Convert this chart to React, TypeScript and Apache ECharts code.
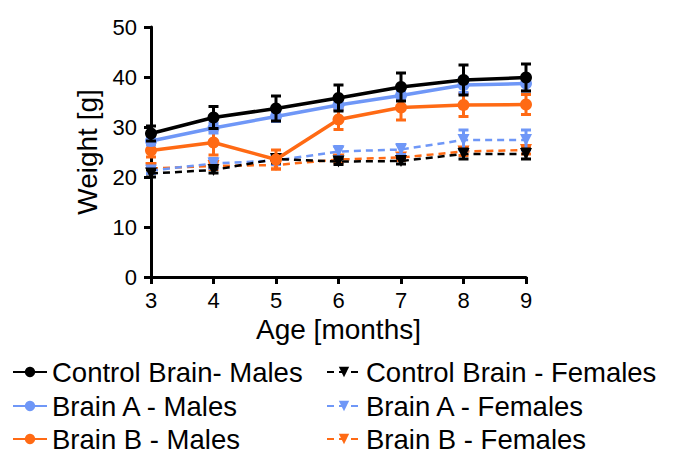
import React, { useEffect, useRef } from "react";
import * as echarts from "echarts";

const months = [3, 4, 5, 6, 7, 8, 9];
const yTicks = [0, 10, 20, 30, 40, 50];

const controlMales = [28.7, 31.9, 33.7, 35.8, 38.0, 39.4, 39.9];
const controlMalesErr = [1.5, 2.2, 2.5, 2.6, 2.8, 3.0, 2.7];
const brainAMales = [27.2, 29.8, 32.1, 34.4, 36.3, 38.4, 38.7];
const brainAMalesErr = [0.8, 1.0, 1.0, 1.0, 1.0, 1.5, 1.5];
const brainBMales = [25.3, 26.9, 23.5, 31.5, 33.9, 34.4, 34.5];
const brainBMalesErr = [1.3, 2.5, 1.9, 2.0, 2.5, 2.3, 2.0];

const controlFemales = [20.7, 21.4, 23.6, 23.1, 23.2, 24.6, 24.6];
const controlFemalesErr = [0.7, 0.6, 0.8, 0.6, 0.6, 1.0, 1.0];
const brainAFemales = [21.3, 22.7, 23.3, 25.1, 25.5, 27.4, 27.4];
const brainAFemalesErr = [0.6, 1.0, 0.8, 1.0, 1.0, 2.0, 2.0];
const brainBFemales = [21.7, 22.2, 22.4, 23.5, 23.9, 25.1, 25.4];
const brainBFemalesErr = [1.0, 0.7, 0.8, 0.7, 0.6, 0.8, 0.8];

const maleNames = ["Control Brain- Males", "Brain A - Males", "Brain B - Males"];
const femaleNames = ["Control Brain - Females", "Brain A - Females", "Brain B - Females"];

const BLACK = "#000000";
const BLUE = "#6f97f7";
const ORANGE = "#ff6a14";

const FONT = "Liberation Sans, Arial, sans-serif";

function errSeries(name: string, vals: number[], errs: number[], color: string, z: number) {
  return {
    type: "custom",
    name: name + " err",
    z,
    silent: true,
    data: months.map((m, i) => [m, vals[i] - errs[i], vals[i] + errs[i]]),
    renderItem: (params: any, api: any) => {
      const x = api.value(0);
      const lo = api.coord([x, api.value(1)]);
      const hi = api.coord([x, api.value(2)]);
      const w = 5;
      const style = { stroke: color, lineWidth: 3 };
      return {
        type: "group",
        children: [
          { type: "line", shape: { x1: lo[0], y1: lo[1], x2: hi[0], y2: hi[1] }, style },
          { type: "line", shape: { x1: hi[0] - w, y1: hi[1], x2: hi[0] + w, y2: hi[1] }, style },
          { type: "line", shape: { x1: lo[0] - w, y1: lo[1], x2: lo[0] + w, y2: lo[1] }, style },
        ],
      };
    },
  };
}

function lineSeries(name: string, vals: number[], color: string, female: boolean, z: number) {
  return {
    type: "line",
    name,
    z,
    data: months.map((m, i) => [m, vals[i]]),
    symbol: female ? "triangle" : "circle",
    symbolRotate: female ? 180 : 0,
    symbolSize: 12,
    itemStyle: { color },
    lineStyle: { color, width: female ? 2.5 : 3.5, type: female ? [7, 5] : "solid" },
  };
}

export default function App() {
  const ref = useRef<HTMLDivElement>(null);
  useEffect(() => {
    const chart = echarts.init(ref.current!, undefined, { renderer: "svg" });
    const legendText = { fontSize: 27.5, lineHeight: 24, color: "#000", fontFamily: FONT };
    const rowTops = [358, 392, 425];
    const legends: any[] = [];
    maleNames.forEach((n, i) =>
      legends.push({
        orient: "horizontal",
        left: 12,
        top: rowTops[i],
        itemWidth: 34,
        itemHeight: 13,
        padding: 0,
        textStyle: legendText,
        data: [n],
      })
    );
    femaleNames.forEach((n, i) =>
      legends.push({
        orient: "horizontal",
        left: 326,
        top: rowTops[i],
        itemWidth: 34,
        itemHeight: 13,
        padding: 0,
        textStyle: legendText,
        data: [n],
      })
    );
    chart.setOption({
      animation: false,
      grid: { left: 151, top: 27, width: 375, height: 250 },
      xAxis: {
        type: "value",
        min: 3,
        max: 9,
        interval: 1,
        name: "Age [months]",
        nameLocation: "middle",
        nameGap: 36,
        nameTextStyle: { fontSize: 28, color: "#000", fontFamily: FONT },
        axisLine: { lineStyle: { color: "#000", width: 3 } },
        axisTick: { show: true, length: 7, lineStyle: { color: "#000", width: 3 } },
        axisLabel: { fontSize: 22, color: "#000", fontFamily: FONT, margin: 12 },
        splitLine: { show: false },
      },
      yAxis: {
        type: "value",
        min: yTicks[0],
        max: yTicks[yTicks.length - 1],
        interval: 10,
        name: "Weight [g]",
        nameLocation: "middle",
        nameGap: 49,
        nameTextStyle: { fontSize: 28, color: "#000", fontFamily: FONT },
        axisLine: { show: true, lineStyle: { color: "#000", width: 3 } },
        axisTick: { show: true, length: 7, lineStyle: { color: "#000", width: 3 } },
        axisLabel: { fontSize: 22, color: "#000", fontFamily: FONT, margin: 14 },
        splitLine: { show: false },
      },
      legend: legends,
      series: [
        errSeries("bbf", brainBFemales, brainBFemalesErr, ORANGE, 2),
        lineSeries(femaleNames[2], brainBFemales, ORANGE, true, 2),
        errSeries("baf", brainAFemales, brainAFemalesErr, BLUE, 3),
        lineSeries(femaleNames[1], brainAFemales, BLUE, true, 3),
        errSeries("cf", controlFemales, controlFemalesErr, BLACK, 4),
        lineSeries(femaleNames[0], controlFemales, BLACK, true, 4),
        errSeries("bbm", brainBMales, brainBMalesErr, ORANGE, 5),
        lineSeries(maleNames[2], brainBMales, ORANGE, false, 5),
        errSeries("bam", brainAMales, brainAMalesErr, BLUE, 6),
        lineSeries(maleNames[1], brainAMales, BLUE, false, 6),
        errSeries("cm", controlMales, controlMalesErr, BLACK, 7),
        lineSeries(maleNames[0], controlMales, BLACK, false, 7),
      ],
    });
    return () => chart.dispose();
  }, []);
  return (
    <div
      ref={ref}
      style={{ position: "absolute", left: 0, top: 0, width: 674, height: 455, background: "#fff" }}
    />
  );
}
